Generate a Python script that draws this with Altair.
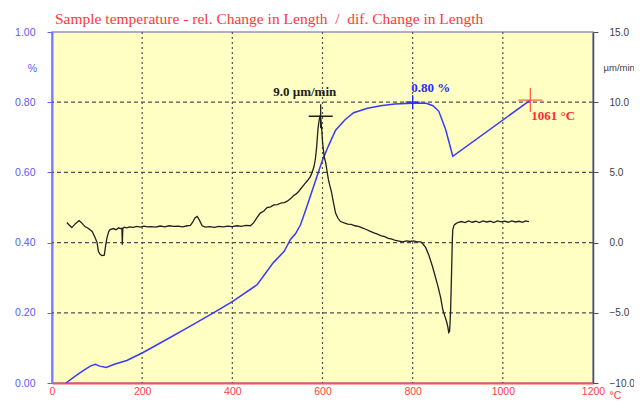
import altair as alt
import pandas as pd

# ---------------- data ----------------
title_text = "Sample temperature - rel. Change in Length \u00a0/\u00a0 dif. Change in Length"

x_ticks = [0, 200, 400, 600, 800, 1000, 1200]
left_ticks = [0.0, 0.2, 0.4, 0.6, 0.8, 1.0]
right_ticks = [-10, -5, 0, 5, 10, 15]
grid_x = [200, 400, 600, 800, 1000]
grid_y = [0.2, 0.4, 0.6, 0.8]

# rel. change in length (%), left axis
temp_rel = [31, 50, 70, 85, 96, 106, 120, 140, 166, 202, 250, 300, 358, 400,
            455, 491, 515, 529, 540, 551, 562, 575, 588, 600, 613, 629, 650,
            669, 700, 729, 760, 800, 830, 845, 858, 873, 889, 1061]
rel_change = [0.000, 0.018, 0.036, 0.048, 0.053, 0.048, 0.044, 0.054, 0.064,
              0.087, 0.121, 0.157, 0.200, 0.232, 0.280, 0.343, 0.375, 0.409,
              0.425, 0.450, 0.490, 0.540, 0.590, 0.635, 0.675, 0.720, 0.750,
              0.770, 0.783, 0.790, 0.795, 0.797, 0.797, 0.790, 0.774, 0.723,
              0.646, 0.806]

# dif. change in length (um/min), right axis
temp_dif = [33, 38, 44, 52, 60, 66, 73, 80, 89, 95,
            100, 103, 107, 111, 116, 119, 122, 126, 129, 136,
            142, 148, 151, 155, 156, 157, 160, 166, 172, 180,
            188, 196, 204, 212, 220, 230, 240, 250, 260, 270,
            280, 290, 300, 307, 312, 317, 322, 327, 333, 340,
            350, 360, 370, 380, 390, 400, 410, 420, 430, 440,
            447, 455, 462, 470, 477, 485, 492, 500, 508, 515,
            522, 530, 536, 541, 546, 551, 556, 561, 565, 569,
            573, 577, 581, 584, 587, 590, 592, 594, 596, 598,
            600, 602, 604, 607, 610, 613, 616, 620, 624, 629,
            634, 640, 648, 656, 664, 672, 680, 688, 696, 705,
            714, 722, 729, 738, 746, 754, 762, 770, 778, 786,
            794, 802, 810, 818, 823, 829, 836, 844, 850, 856,
            862, 867, 871, 875, 878, 880, 882, 884, 886, 888,
            889, 892, 896, 900, 908, 916, 924, 932, 940, 948,
            956, 964, 972, 980, 988, 996, 1004, 1012, 1020, 1028,
            1036, 1044, 1050, 1058]
dif_change = [1.43, 1.25, 1.07, 1.35, 1.57, 1.40, 1.14, 1.02, 0.79, 0.40,
              0.00, -0.64, -0.85, -0.93, -0.90, -0.20, 0.36, 0.80, 0.93, 1.00,
              0.92, 1.05, 1.00, 1.02, -0.15, 1.00, 1.10, 1.05, 1.12, 1.08,
              1.15, 1.10, 1.17, 1.12, 1.14, 1.10, 1.18, 1.12, 1.20, 1.15,
              1.18, 1.12, 1.20, 1.22, 1.45, 1.75, 1.86, 1.60, 1.20, 1.10,
              1.14, 1.08, 1.16, 1.12, 1.18, 1.14, 1.20, 1.16, 1.22, 1.20,
              1.40, 1.80, 2.10, 2.25, 2.50, 2.55, 2.68, 2.70, 2.82, 2.85,
              2.95, 3.15, 3.35, 3.45, 3.60, 3.80, 4.00, 4.20, 4.35, 4.50,
              4.70, 5.00, 5.40, 5.90, 6.80, 8.10, 8.60, 8.95, 8.80, 8.20,
              7.20, 6.60, 6.10, 5.70, 5.10, 4.50, 4.10, 3.60, 2.90, 2.10,
              1.75, 1.50, 1.40, 1.32, 1.30, 1.20, 1.15, 1.05, 0.95, 0.82,
              0.70, 0.60, 0.50, 0.42, 0.30, 0.25, 0.15, 0.10, 0.05, 0.12,
              0.08, 0.12, 0.05, 0.05, -0.10, -0.36, -0.90, -1.70, -2.40, -3.10,
              -3.90, -4.80, -5.20, -5.60, -6.00, -6.40, -6.30, -5.00, -2.50, 0.20,
              0.93, 1.25, 1.35, 1.43, 1.50, 1.42, 1.55, 1.45, 1.52, 1.43,
              1.55, 1.47, 1.52, 1.42, 1.55, 1.48, 1.53, 1.45, 1.55, 1.47,
              1.52, 1.44, 1.55, 1.50]

# annotations
peak_T, peak_v, peak_label = [596], [9.0], ["9.0 \u00b5m/min"]
rel_T, rel_v, rel_label = [800], [0.80], ["0.80 %"]
end_T, end_v, end_label = [1061], [0.806], ["1061 \u00b0C"]

# ---------------- styling ----------------
SANS = "Liberation Sans"
SERIF = "Liberation Serif"
BLUE_TXT = "#5a5aff"
RED_TXT = "#ff4040"
GRAY_TXT = "#404040"
CROSS = "M-1,0L1,0M0,-1L0,1"

xscale = alt.Scale(domain=[0, 1200], nice=False, zero=False)
yl_scale = alt.Scale(domain=[0, 1], nice=False, zero=False)
yr_scale = alt.Scale(domain=[-10, 15], nice=False, zero=False)

xaxis = alt.Axis(values=x_ticks, format="d", grid=False, ticks=False, tickSize=0,
                 domainColor="#ff5050", domainWidth=2, labelColor=RED_TXT,
                 labelFont=SANS, labelFontSize=10.5, labelPadding=3, labelFlush=False,
                 title="\u00b0C", titleColor=RED_TXT, titleFont=SANS, titleFontSize=10.5,
                 titleFontWeight="normal", titleX=557, titleY=7, titleAlign="left",
                 titleBaseline="top")
ylaxis = alt.Axis(values=left_ticks, format=".2f", grid=False, domainColor="#7878ff",
                  domainWidth=2, tickColor="#6060ff", tickSize=5, labelColor=BLUE_TXT,
                  labelFont=SANS, labelFontSize=10.5, labelPadding=12, labelFlush=False,
                  title="%", titleAngle=0, titleX=-20, titleY=36, titleAlign="center",
                  titleBaseline="middle", titleColor=BLUE_TXT, titleFont=SANS,
                  titleFontSize=10.5, titleFontWeight="normal")
yraxis = alt.Axis(orient="right", values=right_ticks, format=".1f", grid=False,
                  domainColor="#505050", domainWidth=1.5, tickColor="#505050", tickSize=5,
                  labelColor=GRAY_TXT, labelFont=SANS, labelFontSize=10, labelPadding=11,
                  labelFlush=False, title="\u00b5m/min", titleAngle=0, titleX=10, titleY=35,
                  titleAlign="left", titleBaseline="middle", titleColor=GRAY_TXT,
                  titleFont=SANS, titleFontSize=9.5, titleFontWeight="normal")

X = lambda f: alt.X(f, type="quantitative", scale=xscale, axis=xaxis)
YL = lambda f: alt.Y(f, type="quantitative", scale=yl_scale, axis=ylaxis)
YR = lambda f: alt.Y(f, type="quantitative", scale=yr_scale, axis=yraxis)

rel_df = pd.DataFrame({"T": temp_rel, "v": rel_change})
dif_df = pd.DataFrame({"T": temp_dif, "v": dif_change})

vgrid = alt.Chart(pd.DataFrame({"T": grid_x})).mark_rule(
    color="#505050", strokeDash=[2, 3], strokeWidth=1.2).encode(x=X("T"))
hgrid = alt.Chart(pd.DataFrame({"v": grid_y})).mark_rule(
    color="#505050", strokeDash=[4, 3], strokeWidth=1.2).encode(y=YL("v"))

blue_line = alt.Chart(rel_df).mark_line(color="#3a3aff", strokeWidth=1.5).encode(
    x=X("T"), y=YL("v"), order="T:Q")

rel_pt = pd.DataFrame({"T": rel_T, "v": rel_v, "label": rel_label})
end_pt = pd.DataFrame({"T": end_T, "v": end_v, "label": end_label})
peak_pt = pd.DataFrame({"T": peak_T, "v": peak_v, "label": peak_label})

blue_mark = alt.Chart(rel_pt).mark_point(shape=CROSS, filled=False, size=196,
                                         strokeWidth=1.3, color="#2020ff", opacity=1).encode(
    x=X("T"), y=YL("v"))
blue_txt = alt.Chart(rel_pt).mark_text(font=SERIF, fontSize=13, fontWeight="bold",
                                       color="#2a2aff", dx=18, dy=-14).encode(
    x=X("T"), y=YL("v"), text="label:N")
red_mark = alt.Chart(end_pt).mark_point(shape=CROSS, filled=False, size=576,
                                        strokeWidth=1.3, color="#ff6040", opacity=1).encode(
    x=X("T"), y=YL("v"))
red_txt = alt.Chart(end_pt).mark_text(font=SERIF, fontSize=13, fontWeight="bold",
                                      color="#ff2a2a", align="left", dx=1, dy=16).encode(
    x=X("T"), y=YL("v"), text="label:N")

black_line = alt.Chart(dif_df).mark_line(color="#202020", strokeWidth=1.3).encode(
    x=X("T"), y=YR("v"), order="T:Q")
black_mark = alt.Chart(peak_pt).mark_point(shape=CROSS, filled=False, size=576,
                                           strokeWidth=1.3, color="#202020", opacity=1).encode(
    x=X("T"), y=YR("v"))
black_txt = alt.Chart(peak_pt).mark_text(font=SERIF, fontSize=13, fontWeight="bold",
                                         color="#202020", dx=-16, dy=-24).encode(
    x=X("T"), y=YR("v"), text="label:N")

left = alt.layer(vgrid, hgrid, blue_line, blue_mark, red_mark, blue_txt, red_txt)
right = alt.layer(black_line, black_mark, black_txt)

chart = alt.layer(left, right).resolve_scale(y="independent").properties(
    width=541, height=351,
    title=alt.TitleParams(text=title_text, anchor="start", color="#ff3838", font=SERIF,
                          fontSize=15.5, fontWeight="normal", dx=3, offset=0, frame="group"),
    padding={"left": 44, "top": 24, "right": 41, "bottom": 18},
    autosize=alt.AutoSizeParams(type="none"),
    background="white",
).configure_view(fill="#ffffc4", stroke="#9494b8", strokeWidth=1.5)

chart.save("out.html", embed_options={"renderer": "svg", "actions": False})
